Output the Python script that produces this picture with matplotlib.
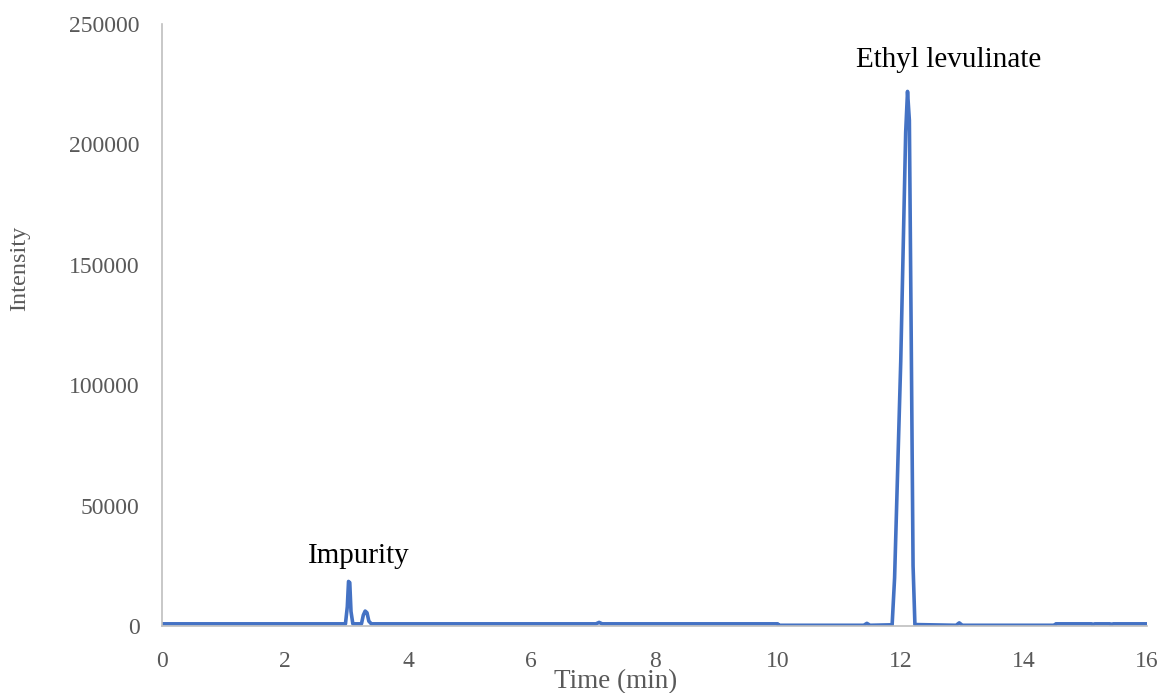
import matplotlib.pyplot as plt
import numpy as np

# Хроматограмма: время (мин) и интенсивность
time = [0.0, 2.98, 3.01, 3.03, 3.05, 3.07, 3.10, 3.24, 3.27, 3.30, 3.33, 3.36, 3.40,
        7.05, 7.10, 7.15, 10.0, 10.02, 11.40, 11.45, 11.50, 11.86, 11.90, 12.00,
        12.08, 12.11, 12.14, 12.17, 12.20, 12.23, 12.90, 12.95, 13.00, 14.50, 14.52,
        15.10, 15.12, 15.15, 15.40, 15.42, 15.45, 16.0]
intensity = [900, 900, 8000, 18500, 18000, 6000, 900, 900, 4500, 6200, 5500, 2000, 900,
             900, 1500, 900, 900, 300, 300, 1100, 300, 500, 20000, 110000,
             205000, 222000, 210000, 120000, 25000, 600, 300, 1300, 300, 300, 900,
             900, 500, 900, 900, 500, 900, 900]

x_ticks = [0, 2, 4, 6, 8, 10, 12, 14, 16]
y_ticks = [0, 50000, 100000, 150000, 200000, 250000]

plt.rcParams['font.family'] = ['Liberation Serif', 'DejaVu Serif']

fig = plt.figure(figsize=(11.63, 6.93), dpi=100)
ax = fig.add_axes([162 / 1163, 1 - 626 / 693, (1147 - 162) / 1163, (626 - 24) / 693])

ax.plot(time, intensity, color='#4472C4', linewidth=2.6, solid_joinstyle='round')

ax.set_xlim(0, 16)
ax.set_ylim(0, 250000)
ax.set_xticks(x_ticks)
ax.set_yticks(y_ticks)
ax.tick_params(length=0, labelsize=17, labelcolor='#595959')
ax.tick_params(axis='y', pad=16)
ax.tick_params(axis='x', pad=18)

for s in ['top', 'right']:
    ax.spines[s].set_visible(False)
for s in ['left', 'bottom']:
    ax.spines[s].set_color('#BFBFBF')
    ax.spines[s].set_linewidth(1.2)

# Подписи осей
fig.text(616 / 1163, 1 - 682 / 693, 'Time (min)', ha='center', va='center', fontsize=19.5, color='#595959')
fig.text(20 / 1163, 1 - 268 / 693, 'Intensity', ha='center', va='center', rotation=90, fontsize=17.5, color='#595959')

# Подписи пиков
ax.text(12.78, 235000, 'Ethyl levulinate', ha='center', va='center', fontsize=21, color='black')
ax.text(3.2, 29000, 'Impurity', ha='center', va='center', fontsize=21, color='black')

fig.savefig('out.png', dpi=100)
